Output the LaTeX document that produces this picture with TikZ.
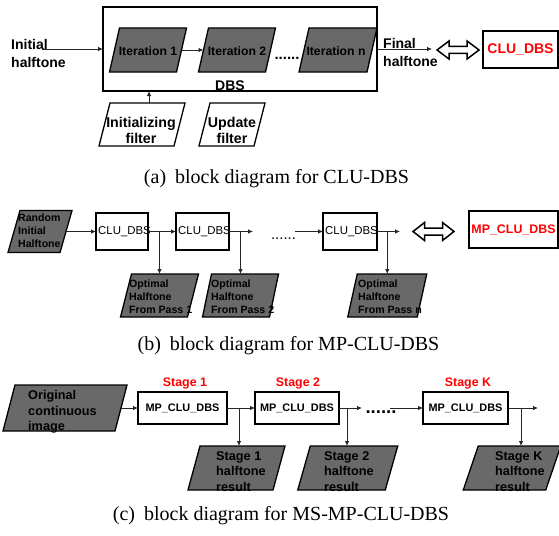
\documentclass[tikz,border=0pt]{standalone}
\usepackage{fontspec}
\setmainfont{Liberation Serif}
\newfontfamily\arialf{Liberation Sans}
\usetikzlibrary{arrows.meta}
\definecolor{pgray}{RGB}{105,105,105}
% name, cx, cy, mid width, height, half slant
\newcommand\pgram[7][pgd]{%
  \node[inner sep=0pt, outer sep=0pt, minimum width=#5pt, minimum height=#6pt] (#2) at (#3,#4) {};
  \filldraw[#1] ([xshift=#7pt]#2.north west) -- ([xshift=#7pt]#2.north east) -- ([xshift=-#7pt]#2.south east) -- ([xshift=-#7pt]#2.south west) -- cycle;}
\tikzset{
  pgd/.style={fill=pgray, draw=black, line width=1.3pt, line join=miter},
  pgw/.style={fill=white, draw=black, line width=1.3pt, line join=miter},
  box/.style={draw, line width=1.5pt, inner sep=0pt, outer sep=0pt},
  arr/.style={draw=black!85, line width=0.8pt, -{Latex[length=5pt,width=4.5pt]}},
  dblarr/.style={draw=black, fill=white, line width=1.5pt, line join=miter},
  fa/.style={font={\arialf\bfseries\fontsize{14}{18}\selectfont}, inner sep=0pt, align=left},
  faf/.style={font={\arialf\bfseries\fontsize{14.2}{16}\selectfont}, inner sep=0pt, align=center},
  fit/.style={font={\arialf\bfseries\fontsize{12.2}{14}\selectfont}, inner sep=0pt},
  fb/.style={font={\arialf\bfseries\fontsize{10.6}{13.2}\selectfont}, inner sep=0pt, align=left},
  fbr/.style={font={\arialf\fontsize{11.4}{13}\selectfont}, inner sep=0pt},
  fc/.style={font={\arialf\bfseries\fontsize{12.7}{15.3}\selectfont}, inner sep=0pt, align=left},
  fcb/.style={font={\arialf\bfseries\fontsize{10.9}{13}\selectfont}, inner sep=0pt},
  fstage/.style={font={\arialf\bfseries\fontsize{12.4}{14}\selectfont}, text=red, inner sep=0pt},
  captxt/.style={font={\fontsize{20}{24}\selectfont}, inner sep=0pt},
}
\begin{document}
\begin{tikzpicture}[x=1pt,y=-1pt]
\useasboundingbox (0,0) rectangle (559,535);
% ================= (a) =================
\node[box, line width=1.8pt, minimum width=274pt, minimum height=84pt] (dbs) at (240,49) {};
\pgram{it1}{148}{50}{67}{44}{5}
\pgram{it2}{237}{50}{67}{44}{5}
\pgram{itn}{338}{50}{68}{44}{5}
\node[fit] (t1) at (148,51) {Iteration 1};
\node[fit] (t2) at (237,51) {Iteration 2};
\node[fit] (tn) at (336,51) {Iteration n};
\node[fa, font={\arialf\bfseries\fontsize{15}{18}\selectfont}, anchor=base] (dotsa) at (287,59.5) {......};
\node[fa] (dbsl) at (230,86) {DBS};
\pgram[pgw]{initf}{142}{124.5}{75}{43}{5.5}
\pgram[pgw]{updf}{232}{124.5}{55}{43}{5.5}
\node[faf] (tinit) at (141,130) {Initializing\\filter};
\node[faf] (tupd) at (232,130) {Update\\filter};
\node[fa, anchor=west] (tin) at (11,53) {Initial\\halftone};
\node[fa, anchor=west] (tfin) at (383,52.5) {Final\\halftone};
\coordinate (inA) at (42,49);
\draw[arr] (inA) -- (inA -| dbs.west);
\draw[arr] (it1.east) -- (it2.west);
\draw[arr] ([xshift=7pt]initf.north) -- ([xshift=7pt]initf.north |- dbs.south);
\coordinate (finA) at (432,49);
\draw[arr] (finA -| dbs.east) -- (finA);
\coordinate (dA) at (458,50);
\draw[dblarr] ([shift={(-21,0)}]dA) -- ([shift={(-9,-9)}]dA) -- ([shift={(-9,-3.5)}]dA) -- ([shift={(9,-3.5)}]dA) -- ([shift={(9,-9)}]dA) -- ([shift={(21,0)}]dA) -- ([shift={(9,9)}]dA) -- ([shift={(9,3.5)}]dA) -- ([shift={(-9,3.5)}]dA) -- ([shift={(-9,9)}]dA) -- cycle;
\node[box, line width=1.6pt, minimum width=75pt, minimum height=37pt, fa, text=red] (clu) at (520.5,49.5) {CLU\_DBS};
\node[captxt] (capa) at (276.5,178.5) {(a)\hspace{0.45em}block diagram for CLU-DBS};
% ================= (b) =================
\pgram{rand}{40}{231.5}{52}{42}{6}
\node[fb, anchor=west] (trand) at (18,231) {Random\\Initial\\Halftone};
\node[box, line width=1.3pt, minimum width=52pt, minimum height=37pt] (b1) at (122,231.5) {};
\node[box, line width=1.3pt, minimum width=53pt, minimum height=37pt] (b2) at (202.5,231.5) {};
\node[box, line width=1.3pt, minimum width=54pt, minimum height=37pt] (b3) at (350,231.5) {};
\node[fbr, anchor=west] (tb1) at ([xshift=2pt]b1.west) {CLU\_DBS};
\node[fbr, anchor=west] (tb2) at ([xshift=2pt]b2.west) {CLU\_DBS};
\node[fbr, anchor=west] (tb3) at ([xshift=2pt]b3.west) {CLU\_DBS};
\pgram{p1}{159.5}{295.5}{67}{43}{5.5}
\pgram{p2}{240.5}{295.5}{67}{43}{4.5}
\pgram{pn}{387.25}{295.5}{69.5}{43}{4.75}
\node[fb, anchor=west] (tp1) at (129,297) {Optimal\\Halftone\\From Pass 1};
\node[fb, anchor=west] (tp2) at (211,297) {Optimal\\Halftone\\From Pass 2};
\node[fb, anchor=west] (tpn) at (358,297) {Optimal\\Halftone\\From Pass n};
\draw[arr] (rand.east) -- (b1.west);
\draw[arr] (b1.east) -- (b2.west);
\draw[arr] (p1.north |- b1.east) -- (p1.north);
\coordinate (e2) at (253,231.5);
\draw[arr] (b2.east) -- (e2);
\draw[arr] (p2.north |- b2.east) -- (p2.north);
\node[fbr, font={\arialf\fontsize{15}{18}\selectfont}, anchor=base] (dotsb) at (283.5,239.5) {......};
\coordinate (s3) at (295,231.5);
\draw[arr] (s3) -- (b3.west);
\coordinate (e3) at (400,231.5);
\draw[arr] (b3.east) -- (e3);
\draw[arr] (pn.north |- b3.east) -- (pn.north);
\coordinate (dB) at (433.5,231.5);
\draw[dblarr] ([shift={(-20.5,0)}]dB) -- ([shift={(-9,-9)}]dB) -- ([shift={(-9,-3.5)}]dB) -- ([shift={(9,-3.5)}]dB) -- ([shift={(9,-9)}]dB) -- ([shift={(20.5,0)}]dB) -- ([shift={(9,9)}]dB) -- ([shift={(9,3.5)}]dB) -- ([shift={(-9,3.5)}]dB) -- ([shift={(-9,9)}]dB) -- cycle;
\node[box, line width=1.5pt, minimum width=89pt, minimum height=37pt, font={\arialf\bfseries\fontsize{12.4}{14}\selectfont}, text=red] (mpclu) at (513.5,229.5) {MP\_CLU\_DBS};
\node[captxt] (capb) at (288.5,346) {(b)\hspace{0.45em}block diagram for MP-CLU-DBS};
% ================= (c) =================
\pgram{orig}{65}{408}{112}{46}{6}
\node[fc, anchor=west] (torig) at (28,412) {Original\\continuous\\image};
\node[box, minimum width=89pt, minimum height=32pt, fcb] (c1) at (182.5,408) {MP\_CLU\_DBS};
\node[box, minimum width=84pt, minimum height=32pt, fcb] (c2) at (297,408) {MP\_CLU\_DBS};
\node[box, minimum width=85pt, minimum height=32pt, fcb] (cK) at (465.5,408) {MP\_CLU\_DBS};
\node[fstage] (st1) at (185,383) {Stage 1};
\node[fstage] (st2) at (298,383) {Stage 2};
\node[fstage] (stK) at (468,383) {Stage K};
\pgram{s1}{236.5}{468}{85}{44}{6}
\pgram{s2}{347.75}{468}{87.5}{44}{6.25}
\pgram{sK}{512}{468}{82.5}{44}{7.5}
\node[fc, anchor=west] (ts1) at (216,471.5) {Stage 1\\halftone\\result};
\node[fc, anchor=west] (ts2) at (324,471.5) {Stage 2\\halftone\\result};
\node[fc, anchor=west] (tsK) at (495,471.5) {Stage K\\halftone\\result};
\draw[arr] (orig.east) -- (c1.west);
\draw[arr] (c1.east) -- (c2.west);
\coordinate (br1) at (239,446);
\draw[arr] (br1 |- c1.east) -- (br1);
\coordinate (ec2) at (362,408);
\draw[arr] (c2.east) -- (ec2);
\coordinate (br2) at (347,446);
\draw[arr] (br2 |- c2.east) -- (br2);
\node[fc, font={\arialf\bfseries\fontsize{18.5}{22}\selectfont}, anchor=base] (dotsc) at (381,413.5) {......};
\coordinate (sc) at (390,408);
\draw[arr] (sc) -- (cK.west);
\coordinate (ecK) at (538,408);
\draw[arr] (cK.east) -- (ecK);
\coordinate (brK) at (521,446);
\draw[arr] (brK |- cK.east) -- (brK);
\node[captxt] (capc) at (281,516) {(c)\hspace{0.45em}block diagram for MS-MP-CLU-DBS};
\end{tikzpicture}
\end{document}
